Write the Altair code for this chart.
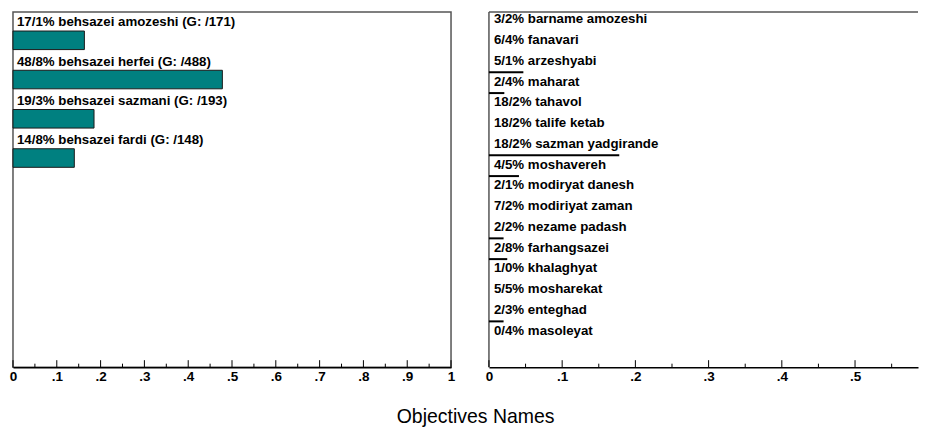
import altair as alt
import pandas as pd

# ---------------- data ----------------
left_labels = [
    "17/1% behsazei amozeshi (G: /171)",
    "48/8% behsazei herfei (G: /488)",
    "19/3% behsazei sazmani (G: /193)",
    "14/8% behsazei fardi (G: /148)",
]
left_values = [0.163, 0.478, 0.185, 0.140]

right_labels = [
    "3/2% barname amozeshi",
    "6/4% fanavari",
    "5/1% arzeshyabi",
    "2/4% maharat",
    "18/2% tahavol",
    "18/2% talife ketab",
    "18/2% sazman yadgirande",
    "4/5% moshavereh",
    "2/1% modiryat danesh",
    "7/2% modiriyat zaman",
    "2/2% nezame padash",
    "2/8% farhangsazei",
    "1/0% khalaghyat",
    "5/5% mosharekat",
    "2/3% enteghad",
    "0/4% masoleyat",
]
right_values = [None, None, 0.047, 0.021, None, None, 0.178, 0.041,
                None, None, 0.020, 0.025, None, None, 0.020, None]

left_major = [0, 0.1, 0.2, 0.3, 0.4, 0.5, 0.6, 0.7, 0.8, 0.9, 1.0]
left_minor = [0.05, 0.15, 0.25, 0.35, 0.45, 0.55, 0.65, 0.75, 0.85, 0.95]
right_major = [0, 0.1, 0.2, 0.3, 0.4, 0.5]
right_minor = [0.05, 0.15, 0.25, 0.35, 0.45, 0.55]
right_domain = [0, 0.586]

FONT = "Liberation Sans"
W_L, W_R, H = 439, 430, 356
STEP_L, STEP_R = 39.33, 20.8
FRAME = "#555555"

left_df = pd.DataFrame({"label": left_labels, "value": left_values})
right_df = pd.DataFrame({"label": right_labels, "value": right_values})
right_lines_df = right_df.dropna()
one = pd.DataFrame({"k": [0]})


def x_axis(values):
    return alt.Axis(
        values=values, format=".1~f",
        labelExpr="replace(datum.label, '0.', '.')",
        ticks=False, grid=False, domainColor="black", domainWidth=1.5,
        labelFont=FONT, labelFontSize=13.5, labelFontWeight="bold",
        labelColor="black", labelPadding=2, labelFlush=False, title=None,
    )


def y_enc(domain, step):
    return alt.Y(
        "label:N", sort=domain,
        scale=alt.Scale(type="band", domain=domain, paddingInner=0,
                        paddingOuter=0, range=[0, step * len(domain)]),
        axis=None,
    )


def tick_layers(major, minor, xscale, ax):
    maj = alt.Chart(pd.DataFrame({"v": major})).mark_rule(
        color="black", strokeWidth=1).encode(
        x=alt.X("v:Q", scale=xscale, axis=ax),
        y=alt.value(H), y2=alt.value(H - 7))
    mnr = alt.Chart(pd.DataFrame({"v": minor})).mark_rule(
        color="black", strokeWidth=1).encode(
        x=alt.X("v:Q", scale=xscale, axis=ax),
        y=alt.value(H), y2=alt.value(H - 3.5))
    return maj, mnr


# ---------------- left panel ----------------
xs_l = alt.Scale(domain=[0, 1], nice=False, zero=True)
ax_l = x_axis(left_major)
yl = y_enc(left_labels, STEP_L)
left_bars = alt.Chart(left_df).mark_bar(
    height=18.6, yOffset=8.75, color="#008080", stroke="#1a1a1a",
    strokeWidth=1).encode(
    x=alt.X("value:Q", scale=xs_l, axis=ax_l), y=yl)
left_text = alt.Chart(left_df).mark_text(
    align="left", baseline="alphabetic", dx=4, dy=-5.25, font=FONT,
    fontSize=13.3, fontWeight="bold", color="black").encode(
    x=alt.datum(0, scale=xs_l, axis=ax_l), y=yl, text="label:N")
lmaj, lmin = tick_layers(left_major, left_minor, xs_l, ax_l)
left = alt.layer(left_bars, left_text, lmaj, lmin).properties(
    width=W_L, height=H,
    view=alt.ViewBackground(stroke=FRAME, strokeWidth=1.5))

# ---------------- right panel ----------------
xs_r = alt.Scale(domain=right_domain, nice=False, zero=True)
ax_r = x_axis(right_major)
yr = y_enc(right_labels, STEP_R)
right_lines = alt.Chart(right_lines_df).mark_bar(
    height=2, yOffset=8.5, color="black").encode(
    x=alt.X("value:Q", scale=xs_r, axis=ax_r), y=yr)
right_text = alt.Chart(right_df).mark_text(
    align="left", baseline="alphabetic", dx=5, dy=1, font=FONT,
    fontSize=13.3, fontWeight="bold", color="black").encode(
    x=alt.datum(0, scale=xs_r, axis=ax_r), y=yr, text="label:N")
rmaj, rmin = tick_layers(right_major, right_minor, xs_r, ax_r)
frame_top = alt.Chart(one).mark_rule(color=FRAME, strokeWidth=1.5).encode(
    x=alt.value(0), x2=alt.value(W_R), y=alt.value(0))
frame_left = alt.Chart(one).mark_rule(color=FRAME, strokeWidth=1.5).encode(
    x=alt.value(0), y=alt.value(0), y2=alt.value(H))
right = alt.layer(frame_top, frame_left, right_lines, right_text,
                  rmaj, rmin).properties(
    width=W_R, height=H, view=alt.ViewBackground(stroke=None))

chart = alt.hconcat(left, right, spacing=29).properties(
    title=alt.TitleParams(
        text="Objectives Names", orient="bottom", anchor="middle",
        font=FONT, fontSize=19.5, fontWeight="normal", color="black",
        offset=25, dx=12),
    padding={"left": 0, "top": 2.5, "right": 0, "bottom": 0},
)

chart.save("out.html", embed_options={"renderer": "svg", "actions": False})
